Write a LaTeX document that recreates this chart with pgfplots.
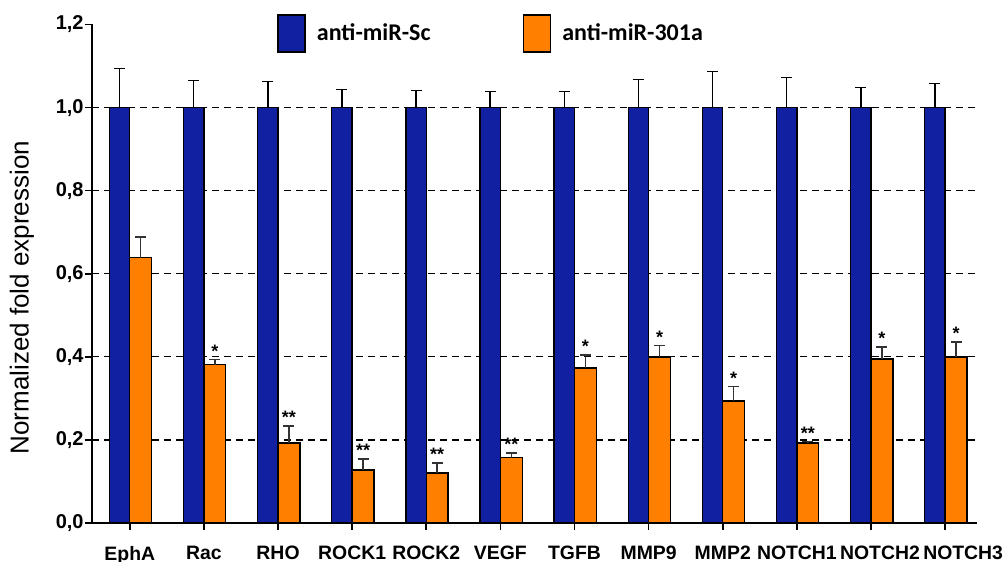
\documentclass[border=0pt]{standalone}
\usepackage{pgfplots}
\pgfplotsset{compat=1.18}
\usepackage{pgfplotstable}
\usepackage{fontspec}
\setmainfont{Liberation Sans}
\newfontfamily\legfont{Carlito}
\definecolor{scblue}{RGB}{16,32,160}
\definecolor{mirorange}{RGB}{255,128,0}

% x = category index shifted to the bar centre
\pgfplotstableread{
x        y err
-0.1375  1 0.094
0.8625   1 0.065
1.8625   1 0.063
2.8625   1 0.043
3.8625   1 0.041
4.8625   1 0.039
5.8625   1 0.039
6.8625   1 0.067
7.8625   1 0.087
8.8625   1 0.072
9.8625   1 0.048
10.8625  1 0.058
}\scdata

\pgfplotstableread{
x        y     err
0.1475   0.639 0.050
1.1475   0.381 0.012
2.1475   0.193 0.041
3.1475   0.128 0.026
4.1475   0.120 0.025
5.1475   0.157 0.012
6.1475   0.373 0.032
7.1475   0.400 0.027
8.1475   0.294 0.034
9.1475   0.193 0.003
10.1475  0.395 0.029
11.1475  0.400 0.036
}\mirdata

\pgfplotstableread{
x        y     label
1.1475   0.393 *
2.1475   0.234 **
3.1475   0.154 **
4.1475   0.145 **
5.1475   0.169 **
6.1475   0.405 *
7.1475   0.427 *
8.1475   0.328 *
9.1475   0.196 **
10.1475  0.424 *
11.1475  0.436 *
}\stars

\begin{document}
\begin{tikzpicture}
\begin{axis}[
  scale only axis,
  width=442.5pt, height=249.25pt,
  xmin=-0.51, xmax=11.43, ymin=0, ymax=1.2,
  axis lines*=left,
  axis line style={line width=1.1pt, black},
  tick align=outside,
  major tick length=3.5pt,
  tick style={line width=0.8pt, black},
  xtick={0,1,2,3,4,5,6,7,8,9,10,11},
  xticklabels={EphA,Rac,RHO,ROCK1,ROCK2,VEGF,TGFB,MMP9,MMP2,NOTCH1,\hspace*{9pt}NOTCH2,\hspace*{18pt}NOTCH3},
  ytick={0,0.2,0.4,0.6,0.8,1.0,1.2},
  yticklabels={{0,0},{0,2},{0,4},{0,6},{0,8},{1,0},{1,2}},
  xticklabel style={font=\bfseries\fontsize{9.7}{10}\selectfont, yshift=-4.5pt},
  yticklabel style={font=\bfseries\fontsize{10}{11}\selectfont, inner xsep=0.5pt},
  extra y ticks={0.2,0.4,0.6,0.8,1.0},
  extra y tick labels={},
  extra y tick style={ymajorgrids=true, major tick length=0pt},
  grid style={black, dash pattern=on 3.5pt off 2.5pt, line width=0.6pt},
  ylabel={Normalized fold expression},
  ylabel style={at={(rel axis cs:-0.0791,0.452)}, anchor=center, font=\fontsize{13}{14}\selectfont},
  legend columns=2,
  legend style={draw=none, fill=none, at={(rel axis cs:0.202,0.982)}, anchor=west,
    font=\legfont\bfseries\fontsize{12}{13}\selectfont,
    /tikz/every odd column/.append style={column sep=3.5pt},
    /tikz/every even column/.append style={column sep=44pt}},
  clip=false,
]
\addplot[ybar, bar shift=0pt, bar width=0.275, fill=scblue, draw=black, line width=0.7pt,
  legend image code/.code={\draw[fill=scblue, draw=black, line width=0.9pt] (0pt,-9.25pt) rectangle (13.5pt,9.25pt);},
  error bars/.cd, y dir=plus, y explicit,
  error bar style={line width=0.75pt, black},
  error mark options={rotate=90, mark size=2.75pt, line width=0.75pt, black}]
  table[x=x, y=y, y error=err]{\scdata};
\addlegendentry{anti-miR-Sc}
\addplot[ybar, bar shift=0pt, bar width=0.295, fill=mirorange, draw=black, line width=0.7pt,
  legend image code/.code={\draw[fill=mirorange, draw=black, line width=0.9pt] (0pt,-9.25pt) rectangle (13.5pt,9.25pt);},
  error bars/.cd, y dir=plus, y explicit,
  error bar style={line width=0.75pt, black!80},
  error mark options={rotate=90, mark size=2.75pt, line width=0.75pt, black!80}]
  table[x=x, y=y, y error=err]{\mirdata};
\addlegendentry{anti-miR-301a}
\addplot[forget plot, draw=none, mark=none, nodes near coords, point meta=explicit symbolic,
  nodes near coords style={font=\bfseries\fontsize{9}{9}\selectfont, anchor=south, inner sep=0.5pt, yshift=0.5pt, black}]
  table[x=x, y=y, meta=label]{\stars};
\coordinate (O) at (rel axis cs:0,0);
\end{axis}
\pgfresetboundingbox
\path[use as bounding box] ([shift={(-46pt,-19.5pt)}]O) rectangle ++(503.5pt,281pt);
\end{tikzpicture}
\end{document}
